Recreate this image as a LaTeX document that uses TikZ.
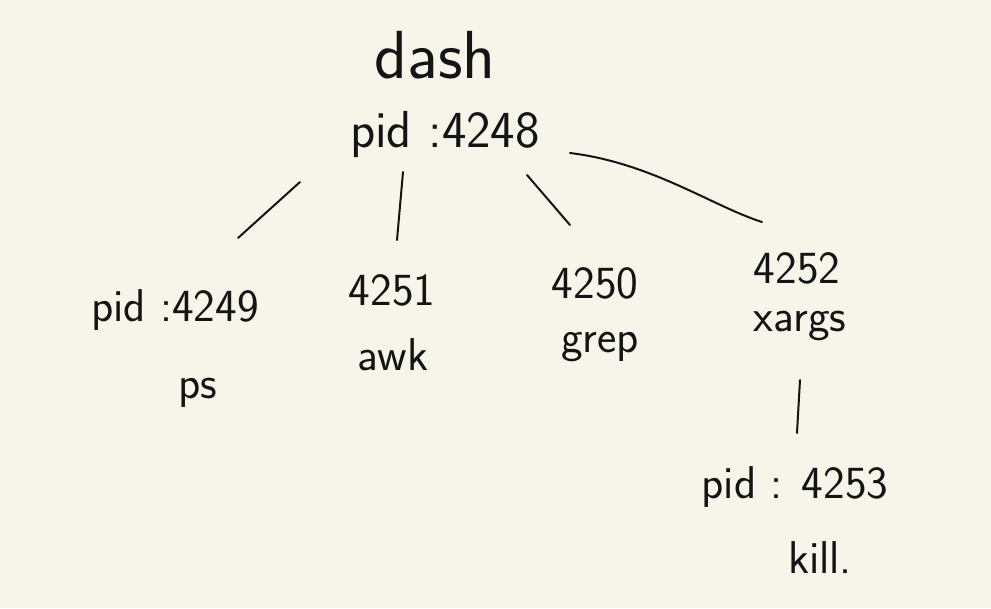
\documentclass[tikz,border=0pt]{standalone}
\usepackage{tikz}
\usetikzlibrary{positioning}
\definecolor{paper}{RGB}{247,245,234}
\definecolor{ink}{RGB}{20,20,20}

\begin{document}
\begin{tikzpicture}[x=1pt, y=-1pt, font=\sffamily,
  pname/.style={inner sep=0pt, text=ink, font=\sffamily\fontsize{46}{50}\selectfont},
  big/.style={inner sep=0pt, text=ink, font=\sffamily\fontsize{68}{72}\selectfont},
  link/.style={draw=ink, line width=2pt, line cap=round}]
\fill[paper] (0,0) rectangle (991,608);
\useasboundingbox (0,0) rectangle (991,608);
% root process
\node[big]   (dash)  at (435,55)  {dash};
\node[pname, font=\sffamily\fontsize{52}{56}\selectfont] (p4248) at (445,135) {pid :4248};
% children of dash
\node[pname] (p4249) at (175,310) {pid :4249};
\node[pname] (ps)    at (198,393) {ps};
\node[pname] (p4251) at (392,290) {4251};
\node[pname] (awk)   at (393,355) {awk};
\node[pname] (p4250) at (595,283) {4250};
\node[pname] (grep)  at (600,347) {grep};
\node[pname] (p4252) at (797,268) {4252};
\node[pname] (xargs) at (800,326) {xargs};
% child of xargs
\node[pname] (p4253) at (795,487) {pid : 4253};
\node[pname] (kill)  at (820,558) {kill.};
% links
\draw[link] ([shift={(-145,47)}]p4248.center) -- ([shift={(63,-72)}]p4249.center);
\draw[link] ([shift={(-42,37)}]p4248.center) -- ([shift={(5,-50)}]p4251.center);
\draw[link] ([shift={(82,40)}]p4248.center) -- ([shift={(-25,-58)}]p4250.center);
\draw[link] ([shift={(125,18)}]p4248.center) .. controls ([shift={(-145,-105)}]p4252.center) and ([shift={(-85,-62)}]p4252.center) .. ([shift={(-35,-46)}]p4252.center);
\draw[link] ([shift={(0,54)}]xargs.center) -- ([shift={(2,-54)}]p4253.center);
\end{tikzpicture}
\end{document}
